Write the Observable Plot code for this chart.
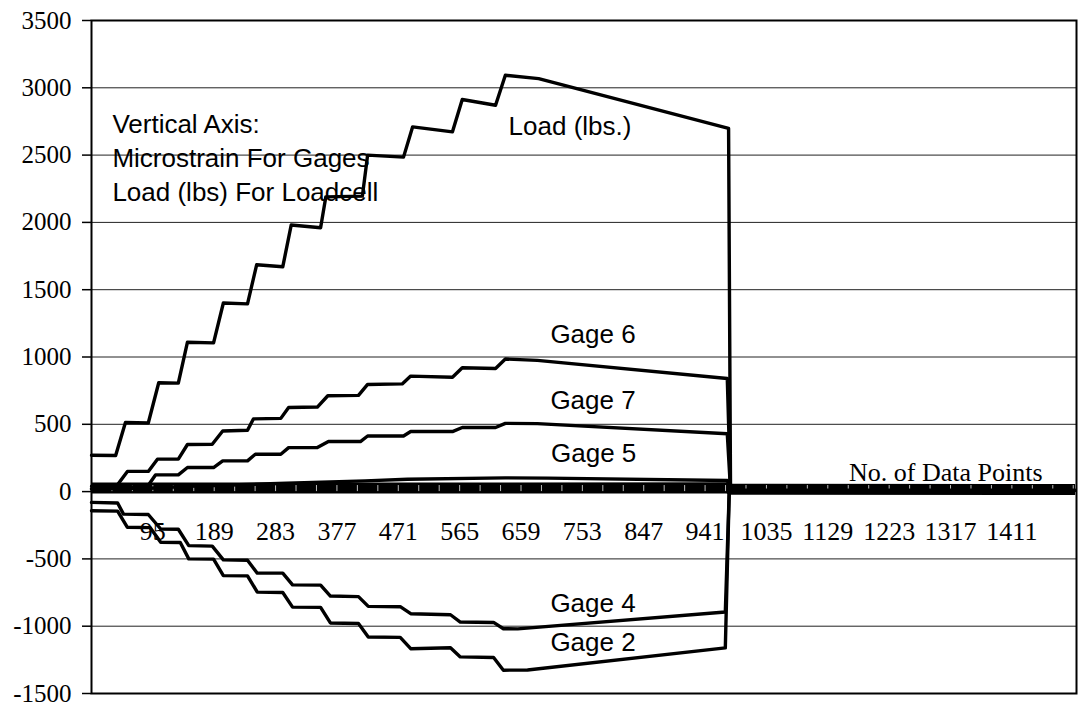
<!DOCTYPE html>
<html><head><meta charset="utf-8">
<script src="https://cdn.jsdelivr.net/npm/d3@7"></script>
<script src="https://cdn.jsdelivr.net/npm/@observablehq/plot@0.6"></script>
<style>
html,body{margin:0;padding:0;background:#fff;}
#chart svg{display:block;}
</style>
</head><body><div id="chart"></div>
<script>
// [data point number, value]
const loadCell = [[1,270],[38,268],[53,513],[88,510],[104,809],[134,806],[148,1110],[188,1105],[203,1401],[240,1395],[254,1685],[294,1670],[307,1981],[352,1960],[360,2190],[416,2195],[424,2500],[479,2485],[493,2710],[554,2673],[569,2913],[620,2870],[635,3093],[686,3068],[977,2698],[980,10],[1508,10]];
const gage6 = [[1,40],[40,45],[56,150],[88,150],[102,241],[134,241],[148,350],[186,352],[202,450],[240,456],[249,540],[291,544],[303,625],[347,628],[363,712],[410,715],[424,796],[477,800],[490,858],[554,850],[569,920],[620,915],[635,985],[684,975],[975,840],[980,10]];
const gage7 = [[1,20],[87,40],[99,124],[134,124],[148,179],[188,179],[202,228],[240,228],[252,278],[291,278],[303,327],[347,327],[364,372],[413,372],[424,413],[479,413],[490,446],[554,446],[569,476],[620,476],[635,507],[684,505],[975,430],[980,10]];
const gage5 = [[1,20],[90,25],[150,40],[300,62],[420,80],[485,92],[635,102],[700,100],[975,82],[980,10]];
const gage4 = [[1,-80],[41,-85],[50,-167],[88,-170],[107,-278],[134,-280],[150,-401],[186,-405],[203,-507],[240,-510],[255,-606],[294,-606],[309,-693],[352,-695],[367,-776],[410,-780],[425,-853],[474,-855],[490,-907],[551,-915],[566,-969],[617,-972],[632,-1019],[654,-1020],[972,-895],[978,0]];
const gage2 = [[1,-142],[41,-145],[56,-265],[91,-268],[107,-376],[137,-378],[150,-500],[188,-502],[203,-624],[240,-626],[255,-747],[294,-750],[309,-858],[352,-860],[367,-976],[410,-980],[425,-1080],[474,-1083],[490,-1167],[551,-1160],[566,-1228],[617,-1232],[632,-1327],[669,-1325],[972,-1161],[978,0]];
const otherGagesNearZero = [[1,26],[975,28],[980,18],[1508,16]];

const yTicks = [-1500,-1000,-500,0,500,1000,1500,2000,2500,3000,3500];
const xTickLabels = [95,189,283,377,471,565,659,753,847,941,1035,1129,1223,1317,1411];
const xMinorTicks = d3.range(1, 1509, 94/3);

const annotations = [
  {x:33, y:2724, text:"Vertical Axis:"},
  {x:33, y:2473, text:"Microstrain For Gages"},
  {x:33, y:2221, text:"Load (lbs) For Loadcell"},
  {x:640, y:2710, text:"Load (lbs.)"},
  {x:704, y:1169, text:"Gage 6"},
  {x:704, y:673, text:"Gage 7"},
  {x:705, y:280, text:"Gage 5"},
  {x:704, y:-831, text:"Gage 4"},
  {x:704, y:-1120, text:"Gage 2"}
];
const xTitle = {x:1458, text:"No. of Data Points"};

const series = [
  {name:"Load", pts:loadCell},
  {name:"Gage 6", pts:gage6},
  {name:"Gage 7", pts:gage7},
  {name:"Gage 5", pts:gage5},
  {name:"Gage 4", pts:gage4},
  {name:"Gage 2", pts:gage2}
];
const rows = series.flatMap(s => s.pts.map(([i, v]) => ({series: s.name, i, v})));
const band = otherGagesNearZero.map(([i, v]) => ({i, v}));

const chart = Plot.plot({
  width: 1080, height: 708,
  marginLeft: 91, marginRight: 4, marginTop: 20, marginBottom: 15,
  x: {domain: [1, 1510], axis: null},
  y: {domain: [-1500, 3500], axis: null},
  style: {background: "#fff", color: "#000"},
  marks: [
    Plot.gridY(yTicks, {stroke: "#222", strokeOpacity: 1, strokeWidth: 1}),
    Plot.axisY(yTicks, {tickSize: 9, tickPadding: 11, tickFormat: d => String(d), fontSize: 25, fontFamily: "Liberation Serif", label: null, strokeWidth: 1.5}),
    Plot.text(annotations, {x: "x", y: "y", text: "text", textAnchor: "start", lineAnchor: "middle", fontFamily: "Liberation Sans", fontSize: 26, fill: "#000"}),
    Plot.line(band, {x: "i", y: "v", stroke: "#000", strokeWidth: 11, strokeLinecap: "butt"}),
    Plot.ruleX(xMinorTicks, {x: d => d, y1: d => 0, y2: d => 45, stroke: "#bbb", strokeWidth: 1}),
    Plot.line(rows, {x: "i", y: "v", z: "series", stroke: "#000", strokeWidth: 3.4}),
    Plot.text(xTickLabels, {x: d => d, y: d => 0, text: d => String(d), dy: 40, lineAnchor: "middle", fontFamily: "Liberation Serif", fontSize: 26, fill: "#000"}),
    Plot.text([xTitle], {x: "x", y: d => 0, text: "text", dy: -19, textAnchor: "end", lineAnchor: "middle", fontFamily: "Liberation Serif", fontSize: 26, fill: "#000"}),
    Plot.frame({stroke: "#000", strokeWidth: 2})
  ]
});
document.getElementById("chart").append(chart);
</script>
</body></html>
